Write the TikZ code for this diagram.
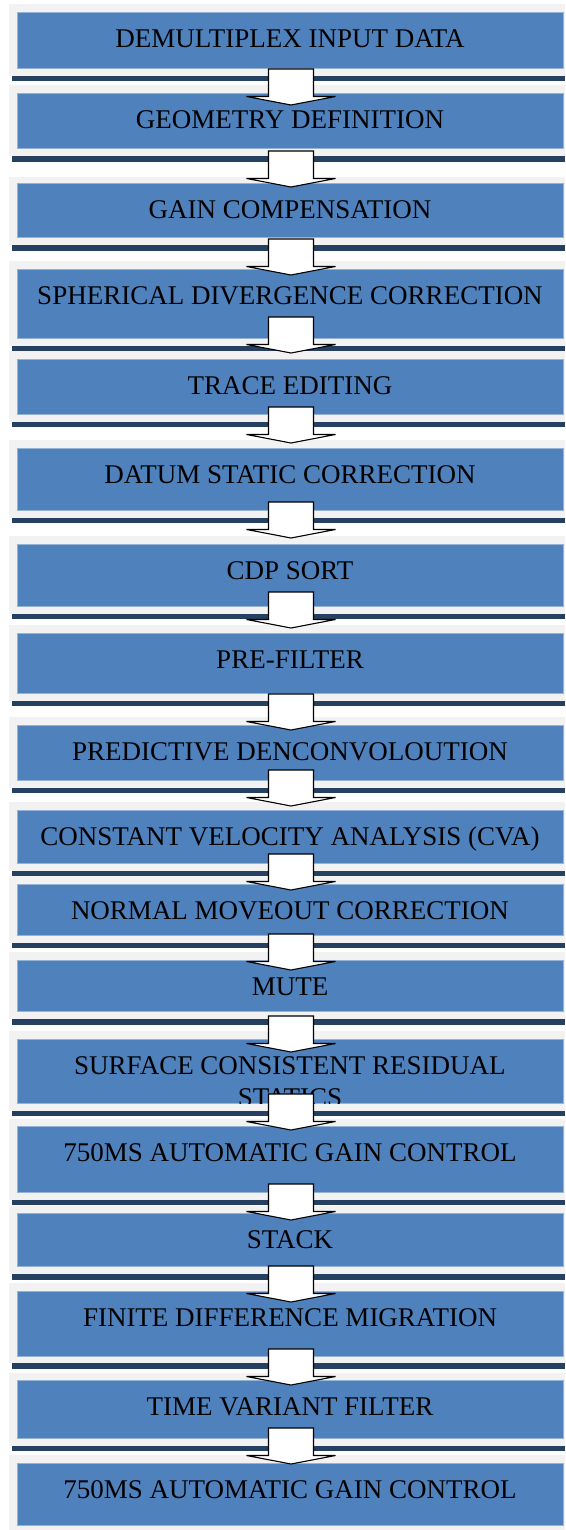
\documentclass[tikz,border=0pt]{standalone}
\usepackage{fontspec}
\setmainfont{Liberation Serif}
\usetikzlibrary{calc}
\definecolor{boxblue}{RGB}{79,129,189}
\definecolor{boxedge}{RGB}{149,179,215}
\definecolor{barnavy}{RGB}{38,64,97}
\definecolor{panelgrey}{RGB}{242,242,242}

\begin{document}
\begin{tikzpicture}[x=1pt,y=-1pt,
  stepbox/.style={draw=boxedge, fill=boxblue, line width=0.8pt, minimum width=546pt, inner sep=0pt, anchor=north, text height=34.8pt, text depth=#1, font=\fontsize{27}{33}\selectfont},
  steptext/.style={inner sep=0pt, anchor=base, font=\fontsize{27}{33}\selectfont},
  panel/.style={fill=panelgrey},
  bar/.style={fill=barnavy},
  blockarrow/.pic={\draw[fill=white, line width=1.1pt] (-22.5,-36) -- (22.5,-36) -- (22.5,-8.5) -- (44.5,-8.5) -- (0,0) -- (-44.5,-8.5) -- (-22.5,-8.5) -- cycle;}]
\useasboundingbox (0,0) rectangle (565,1530);
\fill[white] (0,0) rectangle (565,1530);

%Shape: Panels
\fill[panel] (9,4) rectangle (565,76);
\fill[bar] (12,76) rectangle (565,81);
\fill[panel] (9,85) rectangle (565,156);
\fill[bar] (12,156) rectangle (565,162);
\fill[panel] (9,177) rectangle (565,245);
\fill[bar] (12,245) rectangle (565,251);
\fill[panel] (9,261) rectangle (565,346);
\fill[bar] (12,346) rectangle (565,351);
\fill[panel] (9,351) rectangle (565,422);
\fill[bar] (12,422) rectangle (565,427);
\fill[panel] (9,440) rectangle (565,518);
\fill[bar] (12,518) rectangle (565,523);
\fill[panel] (9,536) rectangle (565,614);
\fill[bar] (12,614) rectangle (565,619);
\fill[panel] (9,625) rectangle (565,701);
\fill[bar] (12,701) rectangle (565,706);
\fill[panel] (9,717) rectangle (565,788);
\fill[bar] (12,788) rectangle (565,793);
\fill[panel] (9,802) rectangle (565,871);
\fill[bar] (12,871) rectangle (565,876);
\fill[panel] (9,876) rectangle (565,943);
\fill[bar] (12,943) rectangle (565,948);
\fill[panel] (9,952) rectangle (565,1019);
\fill[bar] (12,1019) rectangle (565,1025);
\fill[panel] (9,1031) rectangle (565,1111);
\fill[bar] (12,1111) rectangle (565,1116);
\fill[panel] (9,1119) rectangle (565,1200);
\fill[bar] (12,1200) rectangle (565,1205);
\fill[panel] (9,1206) rectangle (565,1274);
\fill[bar] (12,1274) rectangle (565,1280);
\fill[panel] (9,1283) rectangle (565,1363);
\fill[bar] (12,1363) rectangle (565,1369);
\fill[panel] (9,1373) rectangle (565,1446);
\fill[bar] (12,1446) rectangle (565,1451);
\fill[panel] (9,1455) rectangle (565,1530);

% Step boxes
\node[stepbox=21.2pt] (s1) at (290,12) {DEMULTIPLEX INPUT DATA};
\node[stepbox=20.2pt] (s2) at (290,93) {GEOMETRY DEFINITION};
\node[stepbox=19.2pt] (s3) at (290,183) {GAIN COMPENSATION};
\node[stepbox=34.2pt] (s4) at (290,269) {SPHERICAL DIVERGENCE CORRECTION};
\node[stepbox=20.2pt] (s5) at (290,359) {TRACE EDITING};
\node[stepbox=27.2pt] (s6) at (290,448) {DATUM STATIC CORRECTION};
\node[stepbox=27.2pt] (s7) at (290,544) {CDP SORT};
\node[stepbox=25.2pt] (s8) at (290,633) {PRE-FILTER};
\node[stepbox=20.2pt] (s9) at (290,725) {PREDICTIVE DENCONVOLOUTION};
\node[stepbox=18.2pt] (s10) at (290,810) {CONSTANT VELOCITY ANALYSIS (CVA)};
\node[stepbox=16.2pt] (s11) at (290,884) {NORMAL MOVEOUT CORRECTION};
\node[stepbox=16.2pt] (s12) at (290,960) {MUTE};
\node[stepbox=29.2pt] (s13) at (290,1039) {SURFACE CONSISTENT RESIDUAL};
\begin{scope}
\clip (s13.north west) rectangle (s13.south east);
% Text Node
\node[steptext] (s13b) at ($(s13.north)+(0,67.8)$) {STATICS};
\end{scope}
\node[stepbox=31.2pt] (s14) at (290,1126) {750MS AUTOMATIC GAIN CONTROL};
\node[stepbox=18.2pt] (s15) at (290,1213) {STACK};
\node[stepbox=30.2pt] (s16) at (290,1291) {FINITE DIFFERENCE MIGRATION};
\node[stepbox=23.2pt] (s17) at (290,1380) {TIME VARIANT FILTER};
\node[stepbox=27.2pt] (s18) at (290,1463) {750MS AUTOMATIC GAIN CONTROL};

% Block arrows
\pic at ($(s2.north)+(1,12)$) {blockarrow};
\pic at ($(s3.north)+(1,4)$) {blockarrow};
\pic at ($(s4.north)+(1,6)$) {blockarrow};
\pic at ($(s5.north)+(1,-6)$) {blockarrow};
\pic at ($(s6.north)+(1,-5)$) {blockarrow};
\pic at ($(s7.north)+(1,-6)$) {blockarrow};
\pic at ($(s8.north)+(1,-5)$) {blockarrow};
\pic at ($(s9.north)+(1,5)$) {blockarrow};
\pic at ($(s10.north)+(1,-4)$) {blockarrow};
\pic at ($(s11.north)+(1,6)$) {blockarrow};
\pic at ($(s12.north)+(1,10)$) {blockarrow};
\pic at ($(s13.north)+(1,13)$) {blockarrow};
\pic at ($(s14.north)+(1,4)$) {blockarrow};
\pic at ($(s15.north)+(1,7)$) {blockarrow};
\pic at ($(s16.north)+(1,11)$) {blockarrow};
\pic at ($(s17.north)+(1,5)$) {blockarrow};
\pic at ($(s18.north)+(1,1)$) {blockarrow};

\end{tikzpicture}
\end{document}
